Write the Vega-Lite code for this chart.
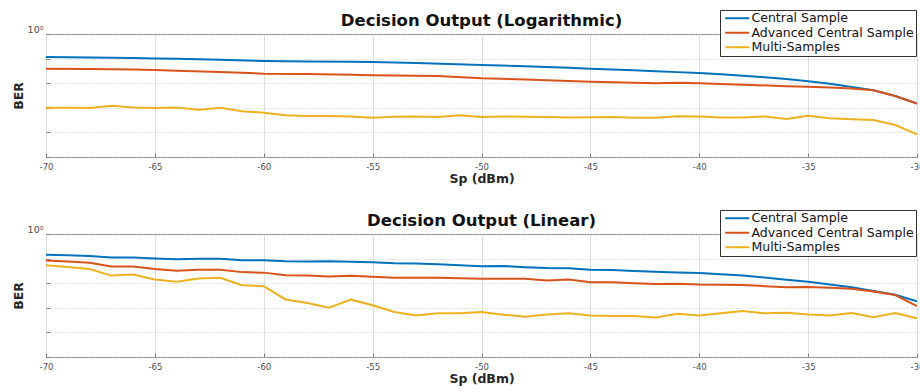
{
  "$schema": "https://vega.github.io/schema/vega-lite/v6.json",
  "padding": {"left": 11, "top": 9, "right": 4, "bottom": 0},
  "background": "white",
  "config": {
    "font": "DejaVu Sans",
    "view": {"stroke": "#7f7f7f", "strokeWidth": 1},
    "axis": {
      "labelFont": "DejaVu Sans",
      "labelFontSize": 8.5,
      "labelColor": "#4d4d4d",
      "titleFont": "DejaVu Sans",
      "titleFontSize": 12.5,
      "titleFontWeight": "bold",
      "titleColor": "#262626",
      "domain": false,
      "tickColor": "#7f7f7f",
      "tickSize": -4,
      "gridColor": "#dedede",
      "gridWidth": 1
    },
    "title": {"font": "DejaVu Sans", "fontSize": 16.5, "fontWeight": "bold", "color": "#111111", "anchor": "middle", "offset": 6, "dy": 26},
    "legend": {
      "orient": "none",
      "legendX": 674,
      "legendY": -24,
      "title": null,
      "symbolType": "M-1,0L3.8,0",
      "symbolSize": 100,
      "symbolStrokeWidth": 2,
      "labelFont": "DejaVu Sans",
      "labelFontSize": 12.5,
      "labelColor": "#111111",
      "labelOffset": 15,
      "labelLimit": 0,
      "strokeColor": "#333333",
      "fillColor": "white",
      "padding": 2,
      "rowPadding": 1.5,
      "symbolOffset": 2
    }
  },
  "datasets": {
    "logd": [
      {"Sp": -70, "BER": 0.116, "series": "Central Sample"},
      {"Sp": -68, "BER": 0.112, "series": "Central Sample"},
      {"Sp": -66, "BER": 0.105, "series": "Central Sample"},
      {"Sp": -65, "BER": 0.102, "series": "Central Sample"},
      {"Sp": -64, "BER": 0.0977, "series": "Central Sample"},
      {"Sp": -62, "BER": 0.0891, "series": "Central Sample"},
      {"Sp": -60, "BER": 0.0794, "series": "Central Sample"},
      {"Sp": -58, "BER": 0.0759, "series": "Central Sample"},
      {"Sp": -56, "BER": 0.0741, "series": "Central Sample"},
      {"Sp": -55, "BER": 0.0724, "series": "Central Sample"},
      {"Sp": -53, "BER": 0.0661, "series": "Central Sample"},
      {"Sp": -50, "BER": 0.0550, "series": "Central Sample"},
      {"Sp": -48, "BER": 0.0490, "series": "Central Sample"},
      {"Sp": -46, "BER": 0.0427, "series": "Central Sample"},
      {"Sp": -45, "BER": 0.0389, "series": "Central Sample"},
      {"Sp": -43, "BER": 0.0339, "series": "Central Sample"},
      {"Sp": -42, "BER": 0.0309, "series": "Central Sample"},
      {"Sp": -41, "BER": 0.0282, "series": "Central Sample"},
      {"Sp": -40, "BER": 0.0260, "series": "Central Sample"},
      {"Sp": -39, "BER": 0.0229, "series": "Central Sample"},
      {"Sp": -38, "BER": 0.0200, "series": "Central Sample"},
      {"Sp": -37, "BER": 0.0174, "series": "Central Sample"},
      {"Sp": -36, "BER": 0.0148, "series": "Central Sample"},
      {"Sp": -35, "BER": 0.0120, "series": "Central Sample"},
      {"Sp": -34, "BER": 0.00955, "series": "Central Sample"},
      {"Sp": -33, "BER": 0.00708, "series": "Central Sample"},
      {"Sp": -32, "BER": 0.00513, "series": "Central Sample"},
      {"Sp": -31, "BER": 0.00302, "series": "Central Sample"},
      {"Sp": -30, "BER": 0.00148, "series": "Central Sample"},

      {"Sp": -70, "BER": 0.0389, "series": "Advanced Central Sample"},
      {"Sp": -68, "BER": 0.0380, "series": "Advanced Central Sample"},
      {"Sp": -66, "BER": 0.0363, "series": "Advanced Central Sample"},
      {"Sp": -65, "BER": 0.0347, "series": "Advanced Central Sample"},
      {"Sp": -64, "BER": 0.0324, "series": "Advanced Central Sample"},
      {"Sp": -62, "BER": 0.0288, "series": "Advanced Central Sample"},
      {"Sp": -60, "BER": 0.0245, "series": "Advanced Central Sample"},
      {"Sp": -58, "BER": 0.0234, "series": "Advanced Central Sample"},
      {"Sp": -56, "BER": 0.0219, "series": "Advanced Central Sample"},
      {"Sp": -55, "BER": 0.0209, "series": "Advanced Central Sample"},
      {"Sp": -53, "BER": 0.0200, "series": "Advanced Central Sample"},
      {"Sp": -52, "BER": 0.0195, "series": "Advanced Central Sample"},
      {"Sp": -50, "BER": 0.0158, "series": "Advanced Central Sample"},
      {"Sp": -48, "BER": 0.0141, "series": "Advanced Central Sample"},
      {"Sp": -46, "BER": 0.0123, "series": "Advanced Central Sample"},
      {"Sp": -45, "BER": 0.0115, "series": "Advanced Central Sample"},
      {"Sp": -43, "BER": 0.0105, "series": "Advanced Central Sample"},
      {"Sp": -42, "BER": 0.0100, "series": "Advanced Central Sample"},
      {"Sp": -41, "BER": 0.0105, "series": "Advanced Central Sample"},
      {"Sp": -40, "BER": 0.0100, "series": "Advanced Central Sample"},
      {"Sp": -38, "BER": 0.00871, "series": "Advanced Central Sample"},
      {"Sp": -36, "BER": 0.00759, "series": "Advanced Central Sample"},
      {"Sp": -35, "BER": 0.00724, "series": "Advanced Central Sample"},
      {"Sp": -34, "BER": 0.00661, "series": "Advanced Central Sample"},
      {"Sp": -33, "BER": 0.00603, "series": "Advanced Central Sample"},
      {"Sp": -32, "BER": 0.00513, "series": "Advanced Central Sample"},
      {"Sp": -31, "BER": 0.00302, "series": "Advanced Central Sample"},
      {"Sp": -30, "BER": 0.00148, "series": "Advanced Central Sample"},

      {"Sp": -70, "BER": 0.00100, "series": "Multi-Samples"},
      {"Sp": -69, "BER": 0.00100, "series": "Multi-Samples"},
      {"Sp": -68, "BER": 0.000977, "series": "Multi-Samples"},
      {"Sp": -67, "BER": 0.00120, "series": "Multi-Samples"},
      {"Sp": -66, "BER": 0.00102, "series": "Multi-Samples"},
      {"Sp": -65, "BER": 0.000977, "series": "Multi-Samples"},
      {"Sp": -64, "BER": 0.00102, "series": "Multi-Samples"},
      {"Sp": -63, "BER": 0.000832, "series": "Multi-Samples"},
      {"Sp": -62, "BER": 0.00100, "series": "Multi-Samples"},
      {"Sp": -61, "BER": 0.000724, "series": "Multi-Samples"},
      {"Sp": -60, "BER": 0.000631, "series": "Multi-Samples"},
      {"Sp": -59, "BER": 0.000501, "series": "Multi-Samples"},
      {"Sp": -58, "BER": 0.000468, "series": "Multi-Samples"},
      {"Sp": -57, "BER": 0.000468, "series": "Multi-Samples"},
      {"Sp": -56, "BER": 0.000447, "series": "Multi-Samples"},
      {"Sp": -55, "BER": 0.000398, "series": "Multi-Samples"},
      {"Sp": -54, "BER": 0.000437, "series": "Multi-Samples"},
      {"Sp": -53, "BER": 0.000447, "series": "Multi-Samples"},
      {"Sp": -52, "BER": 0.000427, "series": "Multi-Samples"},
      {"Sp": -51, "BER": 0.000501, "series": "Multi-Samples"},
      {"Sp": -50, "BER": 0.000427, "series": "Multi-Samples"},
      {"Sp": -49, "BER": 0.000447, "series": "Multi-Samples"},
      {"Sp": -48, "BER": 0.000437, "series": "Multi-Samples"},
      {"Sp": -47, "BER": 0.000427, "series": "Multi-Samples"},
      {"Sp": -46, "BER": 0.000407, "series": "Multi-Samples"},
      {"Sp": -45, "BER": 0.000417, "series": "Multi-Samples"},
      {"Sp": -44, "BER": 0.000427, "series": "Multi-Samples"},
      {"Sp": -43, "BER": 0.000398, "series": "Multi-Samples"},
      {"Sp": -42, "BER": 0.000398, "series": "Multi-Samples"},
      {"Sp": -41, "BER": 0.000457, "series": "Multi-Samples"},
      {"Sp": -40, "BER": 0.000447, "series": "Multi-Samples"},
      {"Sp": -39, "BER": 0.000407, "series": "Multi-Samples"},
      {"Sp": -38, "BER": 0.000407, "series": "Multi-Samples"},
      {"Sp": -37, "BER": 0.000447, "series": "Multi-Samples"},
      {"Sp": -36, "BER": 0.000347, "series": "Multi-Samples"},
      {"Sp": -35, "BER": 0.000479, "series": "Multi-Samples"},
      {"Sp": -34, "BER": 0.000372, "series": "Multi-Samples"},
      {"Sp": -33, "BER": 0.000339, "series": "Multi-Samples"},
      {"Sp": -32, "BER": 0.000316, "series": "Multi-Samples"},
      {"Sp": -31, "BER": 0.000200, "series": "Multi-Samples"},
      {"Sp": -30, "BER": 0.0000832, "series": "Multi-Samples"}
    ],
    "lind": [
      {"Sp": -70, "BER": 0.145, "series": "Central Sample"},
      {"Sp": -69, "BER": 0.138, "series": "Central Sample"},
      {"Sp": -68, "BER": 0.129, "series": "Central Sample"},
      {"Sp": -67, "BER": 0.112, "series": "Central Sample"},
      {"Sp": -66, "BER": 0.112, "series": "Central Sample"},
      {"Sp": -65, "BER": 0.100, "series": "Central Sample"},
      {"Sp": -64, "BER": 0.0933, "series": "Central Sample"},
      {"Sp": -63, "BER": 0.0977, "series": "Central Sample"},
      {"Sp": -62, "BER": 0.0977, "series": "Central Sample"},
      {"Sp": -61, "BER": 0.0851, "series": "Central Sample"},
      {"Sp": -60, "BER": 0.0851, "series": "Central Sample"},
      {"Sp": -59, "BER": 0.0776, "series": "Central Sample"},
      {"Sp": -58, "BER": 0.0759, "series": "Central Sample"},
      {"Sp": -57, "BER": 0.0776, "series": "Central Sample"},
      {"Sp": -56, "BER": 0.0741, "series": "Central Sample"},
      {"Sp": -55, "BER": 0.0708, "series": "Central Sample"},
      {"Sp": -54, "BER": 0.0646, "series": "Central Sample"},
      {"Sp": -53, "BER": 0.0631, "series": "Central Sample"},
      {"Sp": -52, "BER": 0.0589, "series": "Central Sample"},
      {"Sp": -51, "BER": 0.0537, "series": "Central Sample"},
      {"Sp": -50, "BER": 0.0490, "series": "Central Sample"},
      {"Sp": -49, "BER": 0.0501, "series": "Central Sample"},
      {"Sp": -48, "BER": 0.0447, "series": "Central Sample"},
      {"Sp": -47, "BER": 0.0417, "series": "Central Sample"},
      {"Sp": -46, "BER": 0.0407, "series": "Central Sample"},
      {"Sp": -45, "BER": 0.0355, "series": "Central Sample"},
      {"Sp": -44, "BER": 0.0347, "series": "Central Sample"},
      {"Sp": -43, "BER": 0.0316, "series": "Central Sample"},
      {"Sp": -42, "BER": 0.0295, "series": "Central Sample"},
      {"Sp": -41, "BER": 0.0275, "series": "Central Sample"},
      {"Sp": -40, "BER": 0.0257, "series": "Central Sample"},
      {"Sp": -39, "BER": 0.0229, "series": "Central Sample"},
      {"Sp": -38, "BER": 0.0204, "series": "Central Sample"},
      {"Sp": -37, "BER": 0.0170, "series": "Central Sample"},
      {"Sp": -36, "BER": 0.0138, "series": "Central Sample"},
      {"Sp": -35, "BER": 0.0115, "series": "Central Sample"},
      {"Sp": -34, "BER": 0.00891, "series": "Central Sample"},
      {"Sp": -33, "BER": 0.00692, "series": "Central Sample"},
      {"Sp": -32, "BER": 0.00479, "series": "Central Sample"},
      {"Sp": -31, "BER": 0.00339, "series": "Central Sample"},
      {"Sp": -30, "BER": 0.00182, "series": "Central Sample"},

      {"Sp": -70, "BER": 0.0832, "series": "Advanced Central Sample"},
      {"Sp": -69, "BER": 0.0759, "series": "Advanced Central Sample"},
      {"Sp": -68, "BER": 0.0676, "series": "Advanced Central Sample"},
      {"Sp": -67, "BER": 0.0479, "series": "Advanced Central Sample"},
      {"Sp": -66, "BER": 0.0479, "series": "Advanced Central Sample"},
      {"Sp": -65, "BER": 0.0380, "series": "Advanced Central Sample"},
      {"Sp": -64, "BER": 0.0324, "series": "Advanced Central Sample"},
      {"Sp": -63, "BER": 0.0355, "series": "Advanced Central Sample"},
      {"Sp": -62, "BER": 0.0355, "series": "Advanced Central Sample"},
      {"Sp": -61, "BER": 0.0282, "series": "Advanced Central Sample"},
      {"Sp": -60, "BER": 0.0269, "series": "Advanced Central Sample"},
      {"Sp": -59, "BER": 0.0209, "series": "Advanced Central Sample"},
      {"Sp": -58, "BER": 0.0204, "series": "Advanced Central Sample"},
      {"Sp": -57, "BER": 0.0186, "series": "Advanced Central Sample"},
      {"Sp": -56, "BER": 0.0200, "series": "Advanced Central Sample"},
      {"Sp": -55, "BER": 0.0182, "series": "Advanced Central Sample"},
      {"Sp": -54, "BER": 0.0166, "series": "Advanced Central Sample"},
      {"Sp": -53, "BER": 0.0166, "series": "Advanced Central Sample"},
      {"Sp": -52, "BER": 0.0166, "series": "Advanced Central Sample"},
      {"Sp": -51, "BER": 0.0158, "series": "Advanced Central Sample"},
      {"Sp": -50, "BER": 0.0151, "series": "Advanced Central Sample"},
      {"Sp": -49, "BER": 0.0151, "series": "Advanced Central Sample"},
      {"Sp": -48, "BER": 0.0151, "series": "Advanced Central Sample"},
      {"Sp": -47, "BER": 0.0129, "series": "Advanced Central Sample"},
      {"Sp": -46, "BER": 0.0141, "series": "Advanced Central Sample"},
      {"Sp": -45, "BER": 0.0110, "series": "Advanced Central Sample"},
      {"Sp": -44, "BER": 0.0110, "series": "Advanced Central Sample"},
      {"Sp": -43, "BER": 0.0100, "series": "Advanced Central Sample"},
      {"Sp": -42, "BER": 0.00933, "series": "Advanced Central Sample"},
      {"Sp": -41, "BER": 0.00955, "series": "Advanced Central Sample"},
      {"Sp": -40, "BER": 0.00891, "series": "Advanced Central Sample"},
      {"Sp": -39, "BER": 0.00871, "series": "Advanced Central Sample"},
      {"Sp": -38, "BER": 0.00851, "series": "Advanced Central Sample"},
      {"Sp": -37, "BER": 0.00759, "series": "Advanced Central Sample"},
      {"Sp": -36, "BER": 0.00692, "series": "Advanced Central Sample"},
      {"Sp": -35, "BER": 0.00708, "series": "Advanced Central Sample"},
      {"Sp": -34, "BER": 0.00646, "series": "Advanced Central Sample"},
      {"Sp": -33, "BER": 0.00589, "series": "Advanced Central Sample"},
      {"Sp": -32, "BER": 0.00457, "series": "Advanced Central Sample"},
      {"Sp": -31, "BER": 0.00331, "series": "Advanced Central Sample"},
      {"Sp": -30, "BER": 0.00117, "series": "Advanced Central Sample"},

      {"Sp": -70, "BER": 0.0537, "series": "Multi-Samples"},
      {"Sp": -69, "BER": 0.0457, "series": "Multi-Samples"},
      {"Sp": -68, "BER": 0.0380, "series": "Multi-Samples"},
      {"Sp": -67, "BER": 0.0204, "series": "Multi-Samples"},
      {"Sp": -66, "BER": 0.0224, "series": "Multi-Samples"},
      {"Sp": -65, "BER": 0.0141, "series": "Multi-Samples"},
      {"Sp": -64, "BER": 0.0115, "series": "Multi-Samples"},
      {"Sp": -63, "BER": 0.0155, "series": "Multi-Samples"},
      {"Sp": -62, "BER": 0.0166, "series": "Multi-Samples"},
      {"Sp": -61, "BER": 0.00832, "series": "Multi-Samples"},
      {"Sp": -60, "BER": 0.00759, "series": "Multi-Samples"},
      {"Sp": -59, "BER": 0.00219, "series": "Multi-Samples"},
      {"Sp": -58, "BER": 0.00158, "series": "Multi-Samples"},
      {"Sp": -57, "BER": 0.00100, "series": "Multi-Samples"},
      {"Sp": -56, "BER": 0.00214, "series": "Multi-Samples"},
      {"Sp": -55, "BER": 0.00126, "series": "Multi-Samples"},
      {"Sp": -54, "BER": 0.000676, "series": "Multi-Samples"},
      {"Sp": -53, "BER": 0.000490, "series": "Multi-Samples"},
      {"Sp": -52, "BER": 0.000603, "series": "Multi-Samples"},
      {"Sp": -51, "BER": 0.000603, "series": "Multi-Samples"},
      {"Sp": -50, "BER": 0.000676, "series": "Multi-Samples"},
      {"Sp": -49, "BER": 0.000525, "series": "Multi-Samples"},
      {"Sp": -48, "BER": 0.000437, "series": "Multi-Samples"},
      {"Sp": -47, "BER": 0.000537, "series": "Multi-Samples"},
      {"Sp": -46, "BER": 0.000603, "series": "Multi-Samples"},
      {"Sp": -45, "BER": 0.000490, "series": "Multi-Samples"},
      {"Sp": -44, "BER": 0.000468, "series": "Multi-Samples"},
      {"Sp": -43, "BER": 0.000468, "series": "Multi-Samples"},
      {"Sp": -42, "BER": 0.000407, "series": "Multi-Samples"},
      {"Sp": -41, "BER": 0.000575, "series": "Multi-Samples"},
      {"Sp": -40, "BER": 0.000490, "series": "Multi-Samples"},
      {"Sp": -39, "BER": 0.000603, "series": "Multi-Samples"},
      {"Sp": -38, "BER": 0.000741, "series": "Multi-Samples"},
      {"Sp": -37, "BER": 0.000603, "series": "Multi-Samples"},
      {"Sp": -36, "BER": 0.000631, "series": "Multi-Samples"},
      {"Sp": -35, "BER": 0.000537, "series": "Multi-Samples"},
      {"Sp": -34, "BER": 0.000490, "series": "Multi-Samples"},
      {"Sp": -33, "BER": 0.000617, "series": "Multi-Samples"},
      {"Sp": -32, "BER": 0.000417, "series": "Multi-Samples"},
      {"Sp": -31, "BER": 0.000617, "series": "Multi-Samples"},
      {"Sp": -30, "BER": 0.000372, "series": "Multi-Samples"}
    ]
  },
  "spacing": 23,
  "vconcat": [
    {
      "title": "Decision Output (Logarithmic)",
      "width": 871,
      "height": 123,
      "data": {"name": "logd"},
      "mark": {"type": "line", "strokeWidth": 2, "clip": true},
      "encoding": {
        "x": {"field": "Sp", "type": "quantitative", "title": "Sp (dBm)",
              "scale": {"domain": [-70, -30], "nice": false},
              "axis": {"values": [-70, -65, -60, -55, -50, -45, -40, -35, -30], "labelExpr": "'' + datum.value", "labelPadding": 9, "titlePadding": 2, "labelFlush": false}},
        "y": {"field": "BER", "type": "quantitative", "title": "BER",
              "scale": {"type": "log", "domain": [0.00001, 1], "nice": false},
              "axis": {"values": [1, 0.1, 0.01, 0.001, 0.0001, 0.00001], "labelExpr": "datum.value == 1 ? '10⁰' : ''", "gridDash": [1, 2], "gridColor": "#c8c8c8", "labelPadding": 7, "titlePadding": 2, "labelBaseline": "bottom", "labelFontSize": 9.5}},
        "color": {"field": "series", "type": "nominal",
                  "scale": {"domain": ["Central Sample", "Advanced Central Sample", "Multi-Samples"], "range": ["#0072BD", "#D95319", "#EDB120"]}}
      }
    },
    {
      "title": "Decision Output (Linear)",
      "width": 871,
      "height": 123,
      "data": {"name": "lind"},
      "mark": {"type": "line", "strokeWidth": 2, "clip": true},
      "encoding": {
        "x": {"field": "Sp", "type": "quantitative", "title": "Sp (dBm)",
              "scale": {"domain": [-70, -30], "nice": false},
              "axis": {"values": [-70, -65, -60, -55, -50, -45, -40, -35, -30], "labelExpr": "'' + datum.value", "labelPadding": 9, "titlePadding": 2, "labelFlush": false}},
        "y": {"field": "BER", "type": "quantitative", "title": "BER",
              "scale": {"type": "log", "domain": [0.00001, 1], "nice": false},
              "axis": {"values": [1, 0.1, 0.01, 0.001, 0.0001, 0.00001], "labelExpr": "datum.value == 1 ? '10⁰' : ''", "gridDash": [1, 2], "gridColor": "#c8c8c8", "labelPadding": 7, "titlePadding": 2, "labelBaseline": "bottom", "labelFontSize": 9.5}},
        "color": {"field": "series", "type": "nominal",
                  "scale": {"domain": ["Central Sample", "Advanced Central Sample", "Multi-Samples"], "range": ["#0072BD", "#D95319", "#EDB120"]}}
      }
    }
  ],
  "resolve": {"scale": {"color": "independent"}}
}
